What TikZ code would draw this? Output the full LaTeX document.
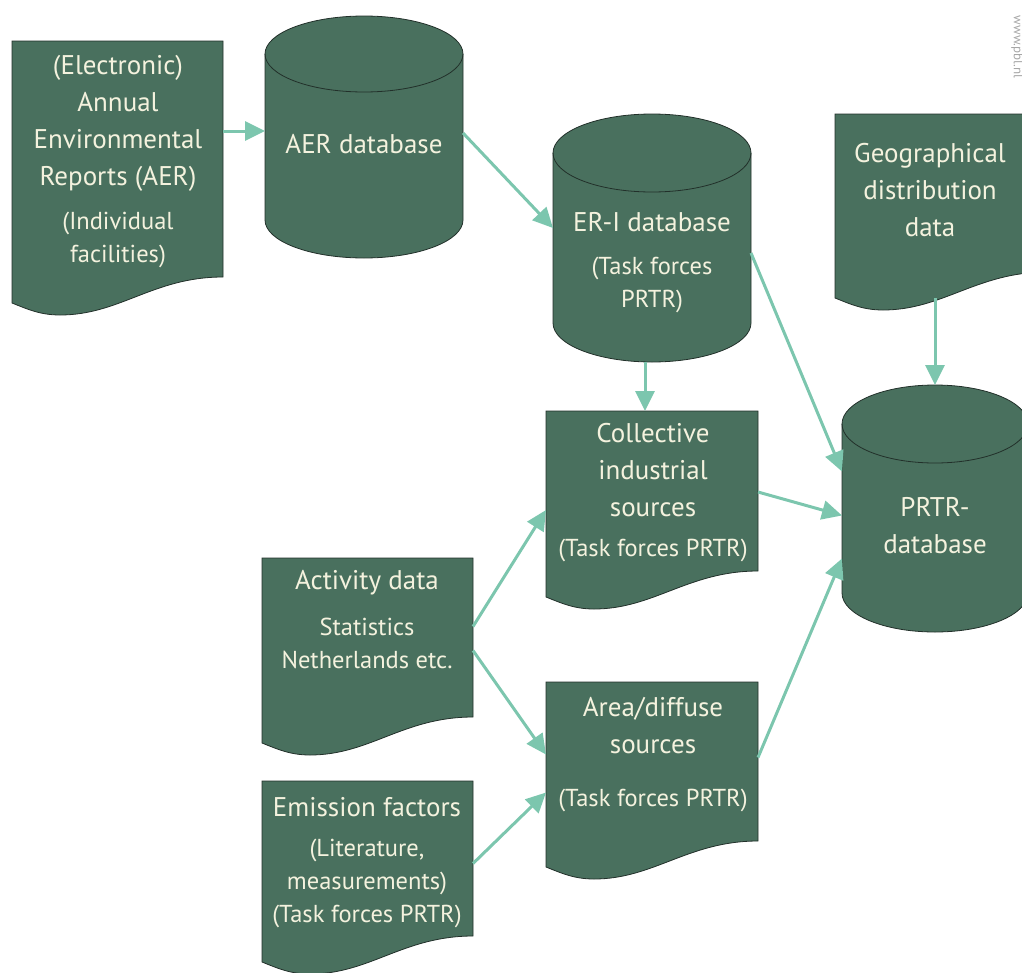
\documentclass[tikz,border=0pt]{standalone}
\usepackage{fontspec}
\setmainfont{PT Sans}
\usepackage{tikz}
\usetikzlibrary{arrows.meta}
\definecolor{pblgreen}{RGB}{73,112,94}
\definecolor{pblline}{RGB}{34,48,42}
\definecolor{pbltext}{RGB}{244,242,222}
\definecolor{pblarrow}{RGB}{124,198,174}

\begin{document}
\begin{tikzpicture}[x=1pt, y=-1pt,
	box/.style={rectangle, inner sep=0pt, outer sep=0pt},
	blob/.style={fill=pblgreen, draw=pblline, line width=0.8pt},
	maintxt/.style={text=pbltext, align=center, inner sep=0pt, font=\fontsize{27}{37}\selectfont},
	subtxt/.style={text=pbltext, align=center, inner sep=0pt, font=\fontsize{24.5}{33}\selectfont},
	arr/.style={pblarrow, line width=3pt, -{Triangle[length=20pt,width=19pt]}}]
	\useasboundingbox (0,0) rectangle (1022,972);
	\clip (0,0) rectangle (1022,972);

	% shape boxes
	\node[box, minimum width=211, minimum height=262] (aer) at (117.5,172) {};
	\node[box, minimum width=198, minimum height=242] (aerdb) at (364,137) {};
	\node[box, minimum width=198, minimum height=248] (erdb) at (652,238) {};
	\node[box, minimum width=212, minimum height=184] (geo) at (941,206) {};
	\node[box, minimum width=186, minimum height=247] (prtr) at (935,508.5) {};
	\node[box, minimum width=212, minimum height=186] (coll) at (652,504) {};
	\node[box, minimum width=211, minimum height=185] (act) at (367.5,650.5) {};
	\node[box, minimum width=212, minimum height=185] (area) at (652,774.5) {};
	\node[box, minimum width=211, minimum height=181] (emis) at (367.5,871.5) {};

	% documents
	\foreach \n in {aer,geo,coll,act,area,emis}
		\draw[blob] (\n.north west) -- (\n.north east) -- ([yshift=26pt]\n.south east)
			.. controls +(-70pt,0pt) and +(60pt,0pt) .. ([shift={(48pt,-12pt)}]\n.south west)
			.. controls +(-20pt,0pt) and +(15pt,-6pt) .. (\n.south west) -- cycle;

	% databases
	\foreach \n/\rx/\ry in {aerdb/99/38, erdb/99/39, prtr/93/39}{
		\draw[blob] ([yshift=-\ry pt]\n.north west) -- ([yshift=\ry pt]\n.south west)
			arc[start angle=180, end angle=360, x radius=\rx pt, y radius=\ry pt]
			-- ([yshift=-\ry pt]\n.north east)
			arc[start angle=0, end angle=180, x radius=\rx pt, y radius=\ry pt] -- cycle;
		\draw[pblline, line width=0.8pt] ([yshift=-\ry pt]\n.north west)
			arc[start angle=180, end angle=360, x radius=\rx pt, y radius=\ry pt];
	}

	% labels
	\node[maintxt] (aertxt) at (118,123) {(Electronic)\\Annual\\Environmental\\Reports (AER)};
	\node[subtxt] (aersub) at (118,240) {(Individual\\facilities)};
	\node[maintxt] (aerdbtxt) at (364,144) {AER database};
	\node[maintxt] (ertxt) at (652,222) {ER-I database};
	\node[subtxt] (ersub) at (652,285) {(Task forces\\PRTR)};
	\node[maintxt] (geotxt) at (930,190) {Geographical\\distribution\\data};
	\node[maintxt] (prtrtxt) at (935,526) {PRTR-\\database};
	\node[maintxt] (colltxt) at (653,470) {Collective\\industrial\\sources};
	\node[subtxt] (collsub) at (653,550) {(Task forces PRTR)};
	\node[maintxt] (acttxt) at (367,583) {Activity data};
	\node[subtxt] (actsub) at (367,643) {Statistics\\Netherlands etc.};
	\node[maintxt] (areatxt) at (653,726) {Area/diffuse\\sources};
	\node[subtxt] (areasub) at (653,800) {(Task forces PRTR)};
	\node[maintxt] (emistxt) at (367,807) {Emission factors};
	\node[subtxt] (emissub) at (367,883) {(Literature,\\measurements)\\(Task forces PRTR)};
	\node[text=gray!70, font=\fontsize{13}{15}\selectfont, rotate=-90] (web) at (1017,47) {www.pbl.nl};

	% arrows
	\draw[arr] ([yshift=41pt]aer.east) -- ([yshift=41pt]aer.east -| aerdb.west);
	\draw[arr] ([yshift=4pt]aerdb.east) -- ([yshift=10pt]erdb.west);
	\draw[arr] ([xshift=-7pt]erdb.south) -- ([xshift=-7pt]coll.north);
	\draw[arr] ([yshift=-15pt]erdb.east) -- ([yshift=37pt]prtr.west);
	\draw[arr] (geo.south -| prtr.north) -- (prtr.north);
	\draw[arr] ([yshift=12pt]coll.east) -- ([yshift=-7pt]prtr.west);
	\draw[arr] ([yshift=17pt]area.east) -- ([yshift=-50pt]prtr.west);
	\draw[arr] ([yshift=24pt]act.east) -- ([yshift=-6pt]coll.west);
	\draw[arr] (act.east) -- ([yshift=20pt]area.west);
	\draw[arr] ([yshift=8pt]emis.east) -- ([yshift=-18pt]area.west);
\end{tikzpicture}
\end{document}
